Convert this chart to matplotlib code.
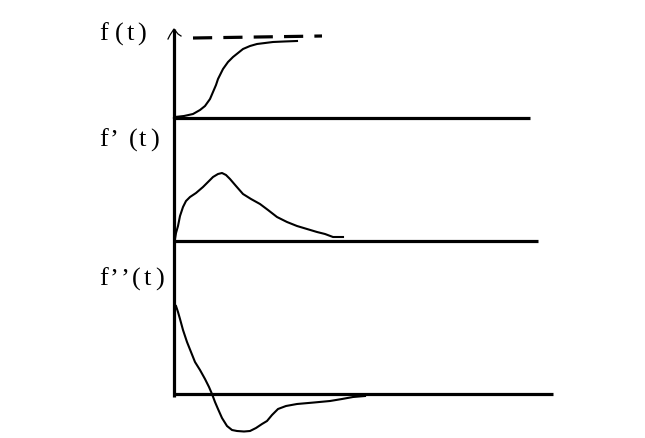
import matplotlib
matplotlib.use("Agg")
import matplotlib.pyplot as plt
import numpy as np

# Sketch data (t = time from origin, values = height above each panel's baseline)
f_t = [0, 1, 10, 19, 26, 31, 36, 39, 42, 44, 49, 54, 59, 64, 69, 76, 83, 91, 99, 110, 123]
f_v = [0, 1, 2, 4, 8, 12, 19, 26, 33, 39, 49, 56, 61, 65, 69, 72, 74, 75, 76, 76.5, 77]
f_asym_t = [19, 148]
f_asym_v = [80, 82]

d1_t = [1, 2, 4, 6, 9, 12, 16, 22, 29, 34, 39, 44, 48, 52, 56, 62, 69, 77, 86, 94, 103, 113, 123, 133, 143, 151, 159, 169]
d1_v = [2, 8, 15, 25, 34, 40, 44, 48, 54, 59, 64, 67, 68, 66, 62, 55, 47, 42, 37, 31, 24, 19, 15, 12, 9, 7, 4, 4]

d2_t = [2, 4, 6, 9, 13, 17, 21, 26, 31, 35, 38, 41, 44, 48, 53, 58, 63, 70, 76, 82, 88, 93, 98, 104, 112, 123, 140, 156, 168, 179, 191]
d2_v = [88, 82, 75, 64, 52, 42, 32, 24, 15, 7, 0, -8, -15, -24, -32, -36, -37, -37.5, -37, -34, -30, -27, -21, -15, -12, -10, -8.5, -7, -5, -3, -2]

labels = ["f(t)", "f\u2019(t)", "f\u2019\u2019(t)"]

# layout
X0 = 174
baselines = [119, 242, 395]
axis_ends = [356, 364, 379]
label_y = [34, 140, 279]
char_x = [[103.5, 119.5, 130, 141.5],
          [104, 114, 133, 142, 155],
          [103.5, 114, 125, 136, 147.5, 160]]

fig = plt.figure(figsize=(6.45, 4.39), dpi=100)
ax = fig.add_axes([0, 0, 1, 1])
ax.set_xlim(0, 645)
ax.set_ylim(439, 0)
ax.axis("off")

lw_ax = 2.3
lw_c = 1.5
# vertical axis
ax.plot([X0, X0], [30, 398], color="black", lw=lw_ax, solid_capstyle="butt")
# arrow tip
ax.plot([168, 170, 174, 178, 181], [40, 36, 30, 35, 37], color="black", lw=0.9)
# horizontal axes
for b, L in zip(baselines, axis_ends):
    ax.plot([X0, X0 + L], [b, b], color="black", lw=lw_ax, solid_capstyle="butt")

ax.plot(X0 + np.array(f_t), baselines[0] - np.array(f_v), color="black", lw=lw_c)
ax.plot(X0 + np.array(f_asym_t), baselines[0] - np.array(f_asym_v), color="black",
        lw=2.3, dashes=(6, 3.5))
ax.plot(X0 + np.array(d1_t), baselines[1] - np.array(d1_v), color="black", lw=lw_c)
ax.plot(X0 + np.array(d2_t), baselines[2] - np.array(d2_v), color="black", lw=lw_c)

for s, y, xs in zip(labels, label_y, char_x):
    for ch, x in zip(s, xs):
        ax.text(x, y, ch, fontsize=19, family="Liberation Serif", va="center", ha="center")

fig.savefig("out.png", dpi=100)
